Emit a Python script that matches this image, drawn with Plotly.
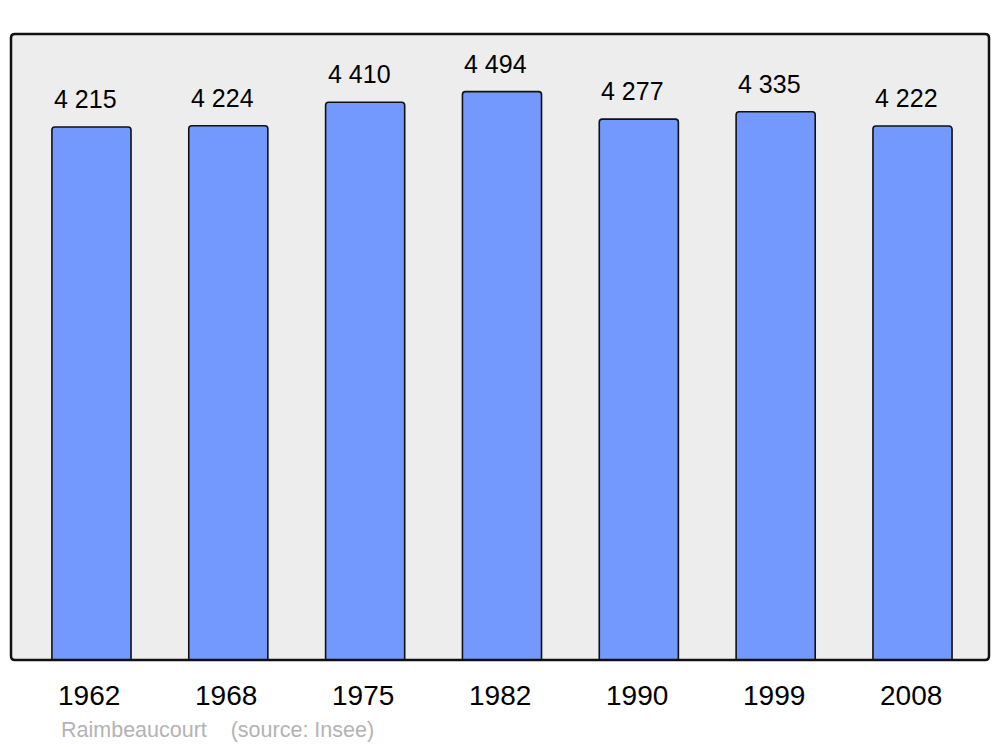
import plotly.graph_objects as go

years = ["1962", "1968", "1975", "1982", "1990", "1999", "2008"]
population = [4215, 4224, 4410, 4494, 4277, 4335, 4222]
value_labels = ["4 215", "4 224", "4 410", "4 494", "4 277", "4 335", "4 222"]
source_text = "Raimbeaucourt    (source: Insee)"

W, H = 1000, 747
ml, mr, mt, mb = 11, 11, 34, 87
pw, ph = W - ml - mr, H - mt - mb

xs = list(range(len(years)))

fig = go.Figure()
fig.add_trace(go.Bar(
    x=xs, y=population, width=0.578,
    marker=dict(color="#7399ff", line=dict(color="#111111", width=1.6)),
    hoverinfo="skip",
))

ann = []
for i, (v, t) in enumerate(zip(population, value_labels)):
    ann.append(dict(x=i, y=v, xref="x", yref="y", text=t, showarrow=False,
                    yanchor="bottom", yshift=12, xshift=-6,
                    font=dict(family="Liberation Sans, Arial, sans-serif", size=25, color="#000000")))
for i, yr in enumerate(years):
    ann.append(dict(x=i, y=0, xref="x", yref="paper", text=yr, showarrow=False,
                    yanchor="top", yshift=-18, xshift=-2,
                    font=dict(family="Liberation Sans, Arial, sans-serif", size=28, color="#000000")))
ann.append(dict(x=(59 - ml) / pw, y=0, xref="paper", yref="paper",
                text=source_text.replace("    ", "&nbsp;&nbsp;&nbsp;&nbsp;"),
                showarrow=False, xanchor="left", yanchor="top", yshift=-56,
                font=dict(family="Liberation Sans, Arial, sans-serif", size=21.5, color="#b3b3b3")))

# rounded border
r = 4
rx, ry = r / pw, r / ph
path = (f"M {rx},0 L {1-rx},0 Q 1,0 1,{ry} L 1,{1-ry} Q 1,1 {1-rx},1 "
        f"L {rx},1 Q 0,1 0,{1-ry} L 0,{ry} Q 0,0 {rx},0 Z")

fig.update_layout(
    width=W, height=H,
    margin=dict(l=ml, r=mr, t=mt, b=mb),
    paper_bgcolor="#ffffff", plot_bgcolor="#ededed",
    barcornerradius=3,
    showlegend=False,
    xaxis=dict(range=[-0.588, 6.559], showticklabels=False, showgrid=False, zeroline=False, ticks=""),
    yaxis=dict(range=[0, 4950], showticklabels=False, showgrid=False, zeroline=False, ticks=""),
    annotations=ann,
    shapes=[dict(type="path", xref="paper", yref="paper", path=path,
                 line=dict(color="#111111", width=2.5), layer="above")],
)

fig.write_html("out.html", config={"displayModeBar": False},
               post_script="document.body.style.margin='0';")
